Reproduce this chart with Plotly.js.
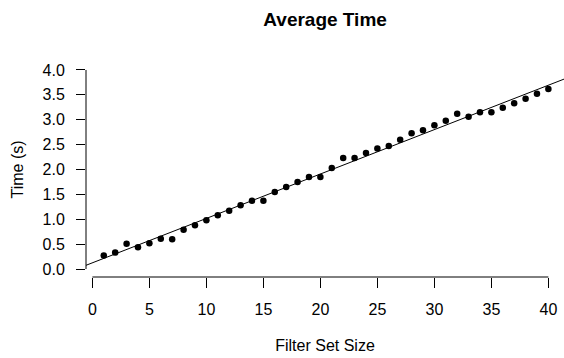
<!DOCTYPE html>
<html>
<head>
<meta charset="utf-8">
<script src="https://cdn.plot.ly/plotly-3.0.1.min.js"></script>
<style>html,body{margin:0;padding:0;background:#fff;}#chart{width:564px;height:358px;}</style>
</head>
<body>
<div id="chart"></div>
<script>
const filterSetSize = [1,2,3,4,5,6,7,8,9,10,11,12,13,14,15,16,17,18,19,20,21,22,23,24,25,26,27,28,29,30,31,32,33,34,35,36,37,38,39,40];
const timeSeconds = [0.27,0.33,0.51,0.44,0.52,0.61,0.60,0.79,0.88,0.98,1.08,1.17,1.28,1.37,1.37,1.55,1.65,1.75,1.85,1.85,2.03,2.23,2.23,2.33,2.42,2.47,2.60,2.73,2.79,2.89,2.98,3.12,3.06,3.15,3.15,3.24,3.33,3.42,3.52,3.62];
const xTicks = [0,5,10,15,20,25,30,35,40];
const yTicks = [0,0.5,1,1.5,2,2.5,3,3.5,4];
const yTickLabels = ["0.0","0.5","1.0","1.5","2.0","2.5","3.0","3.5","4.0"];

// least-squares fit (abline(lm(...)))
const n = filterSetSize.length;
const mx = filterSetSize.reduce((a,b)=>a+b,0)/n;
const my = timeSeconds.reduce((a,b)=>a+b,0)/n;
let sxy=0, sxx=0;
for (let i=0;i<n;i++){ sxy += (filterSetSize[i]-mx)*(timeSeconds[i]-my); sxx += (filterSetSize[i]-mx)**2; }
const slope = sxy/sxx, intercept = my - slope*mx;
const fitX = [-5, 50];
const fitY = fitX.map(v => intercept + slope*v);

const font = {family: 'Liberation Sans, Arial, sans-serif', size: 16, color: '#000'};

const traces = [
  {x: fitX, y: fitY, mode: 'lines', line: {color: '#000', width: 1}, hoverinfo: 'skip', cliponaxis: true},
  {x: filterSetSize, y: timeSeconds, mode: 'markers', marker: {color: '#000', size: 6.5}}
];

const layout = {
  width: 564, height: 358,
  margin: {l: 86, r: 0, t: 62, b: 81},
  paper_bgcolor: '#fff', plot_bgcolor: '#fff',
  showlegend: false,
  font: font,
  title: {text: '<b>Average Time</b>', font: {family: font.family, size: 19, color: '#000'},
          x: 0.5764, xanchor: 'center', xref: 'container', yref: 'container', y: 0.945, yanchor: 'middle'},
  xaxis: {
    range: [-0.56, 41.37], showgrid: false, zeroline: false, showline: false,
    tickmode: 'array', tickvals: xTicks, ticktext: xTicks.map(String),
    ticks: 'outside', ticklen: 10, tickwidth: 1, tickcolor: '#000',
    ticklabelstandoff: 8,
    title: {text: 'Filter Set Size', font: font, standoff: 22}
  },
  yaxis: {
    range: [-0.16, 4.16], showgrid: false, zeroline: false, showline: false,
    tickmode: 'array', tickvals: yTicks, ticktext: yTickLabels,
    ticks: 'outside', ticklen: 9, tickwidth: 1, tickcolor: '#000',
    ticklabelstandoff: 8,
    title: {text: 'Time (s)', font: font, standoff: 14}
  },
  shapes: [
    {type: 'line', xref: 'paper', yref: 'y', x0: 0, x1: 0, y0: yTicks[0], y1: yTicks[yTicks.length-1], line: {color: '#000', width: 1}},
    {type: 'line', xref: 'x', yref: 'paper', x0: xTicks[0], x1: xTicks[xTicks.length-1], y0: 0, y1: 0, line: {color: '#000', width: 1}}
  ]
};

Plotly.newPlot('chart', traces, layout, {staticPlot: true, displayModeBar: false});
</script>
</body>
</html>
